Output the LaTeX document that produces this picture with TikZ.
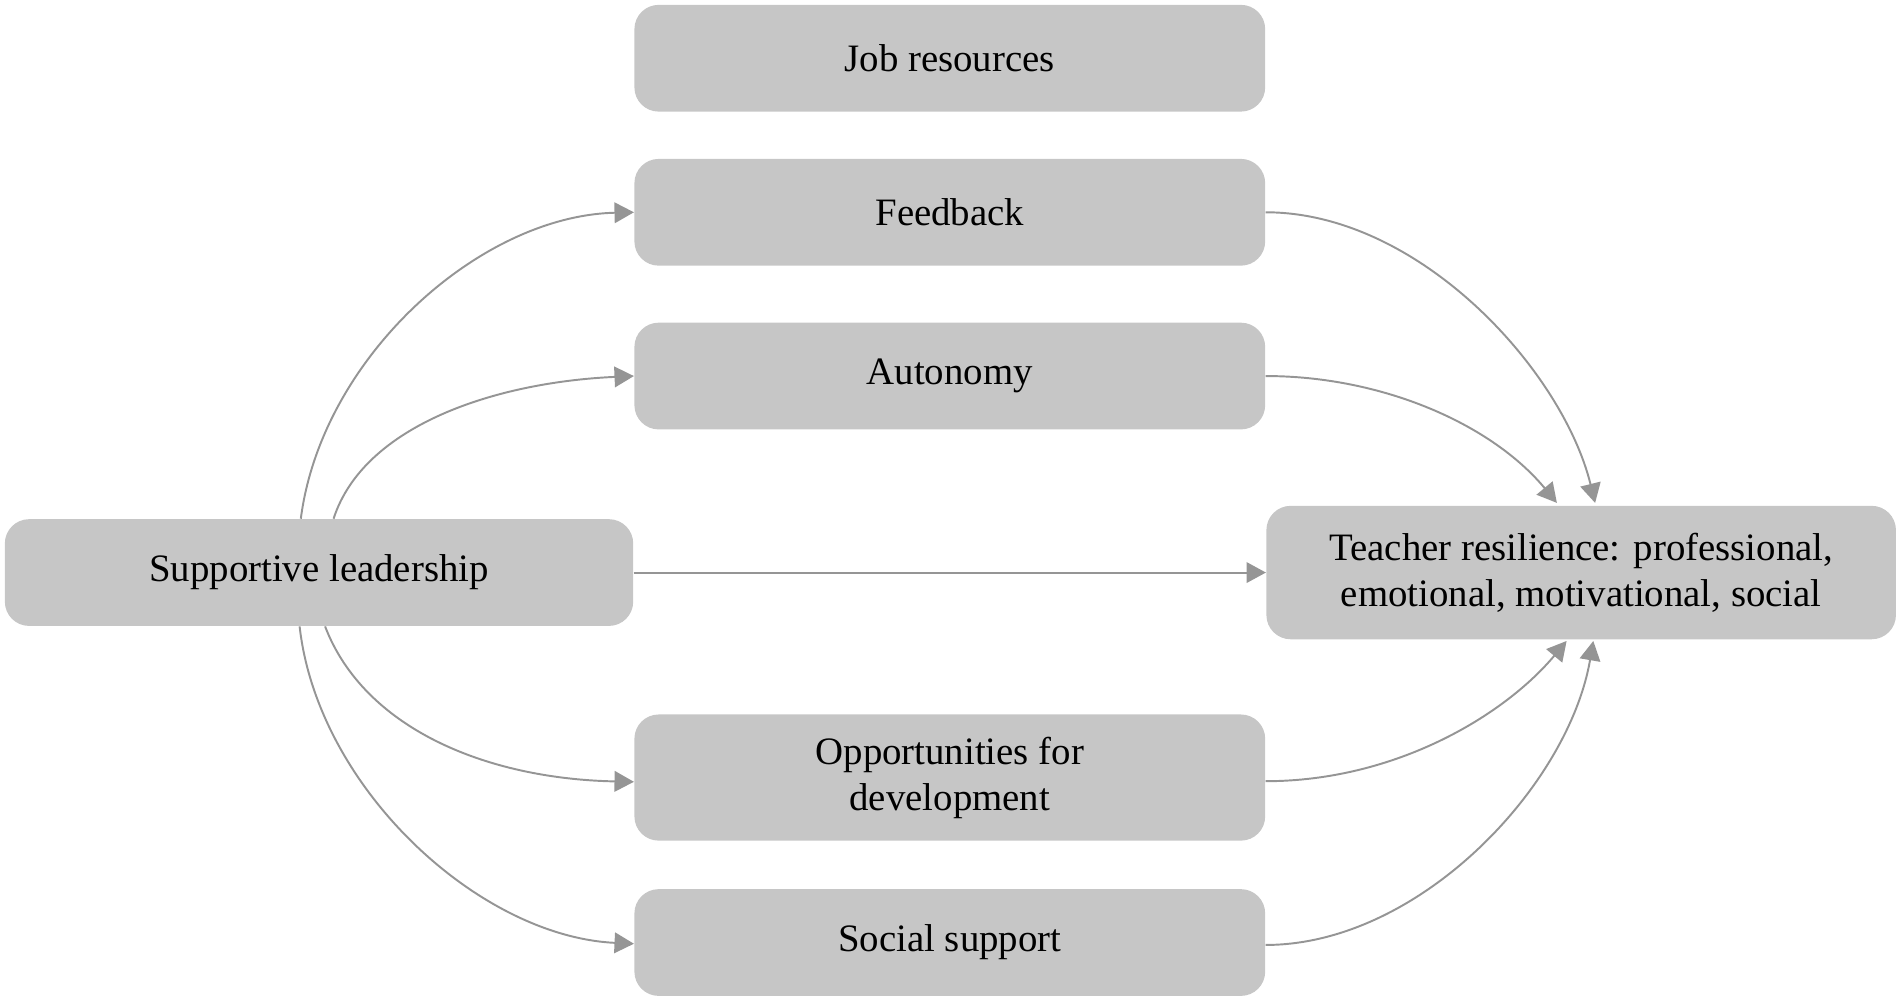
\documentclass[tikz,border=0pt]{standalone}
\usepackage{fontspec}
\setmainfont{Liberation Serif}
\usetikzlibrary{arrows.meta,calc}
\definecolor{boxgray}{HTML}{C6C6C6}
\definecolor{linegray}{HTML}{959595}
\begin{document}
\begin{tikzpicture}[x=0.5pt,y=-0.5pt,
  box/.style={draw=none, fill=boxgray, rounded corners=10pt, minimum width=260pt,
    minimum height=44pt, inner sep=0pt, align=center,
    font=\fontsize{16}{19}\selectfont, text=black},
  conn/.style={draw=linegray, line width=0.8pt, -{Triangle[length=8pt,width=8.5pt]}}]
\useasboundingbox (0,0) rectangle (1568,826);

\node[box] (job) at (783,48) {Job resources};
\node[box] (feed) at (783,175) {Feedback};
\node[box] (auto) at (783,310) {Autonomy};
\node[box, minimum width=259pt] (sup) at (263,472) {Supportive leadership};
\node[box, minimum width=259.5pt, minimum height=55pt] (teach) at (1303.5,472)
  {Teacher resilience: professional,\\emotional, motivational, social};
\node[box, minimum height=52pt] (opp) at (783,641) {Opportunities for\\development};
\node[box] (soc) at (783,777) {Social support};

% left side
\draw[conn] ($(sup.north)+(-15,0)$) .. controls (265,295) and (395,178) .. (feed.west);
\draw[conn] ($(sup.north)+(12,0)$) .. controls (300,350) and (410,315) .. (auto.west);
\draw[conn] (sup.east) -- (teach.west);
\draw[conn] ($(sup.south)+(5,0)$) .. controls (300,600) and (400,642) .. ($(opp.west)+(0,3.5)$);
\draw[conn] ($(sup.south)+(-16,0)$) .. controls (262,650) and (395,772) .. ($(soc.west)+(0,1)$);

% right side
\draw[conn] (feed.east) .. controls (1170,175) and (1288,305) .. ($(teach.north)+(11.5,-2)$);
\draw[conn] (auto.east) .. controls (1140,310) and (1230,350) .. ($(teach.north)+(-20,-2)$);
\draw[conn] ($(opp.east)+(0,3)$) .. controls (1150,644) and (1240,590) .. ($(teach.south)+(-12,1)$);
\draw[conn] ($(soc.east)+(0,2)$) .. controls (1170,779) and (1293,648) .. ($(teach.south)+(10,1)$);
\end{tikzpicture}
\end{document}
